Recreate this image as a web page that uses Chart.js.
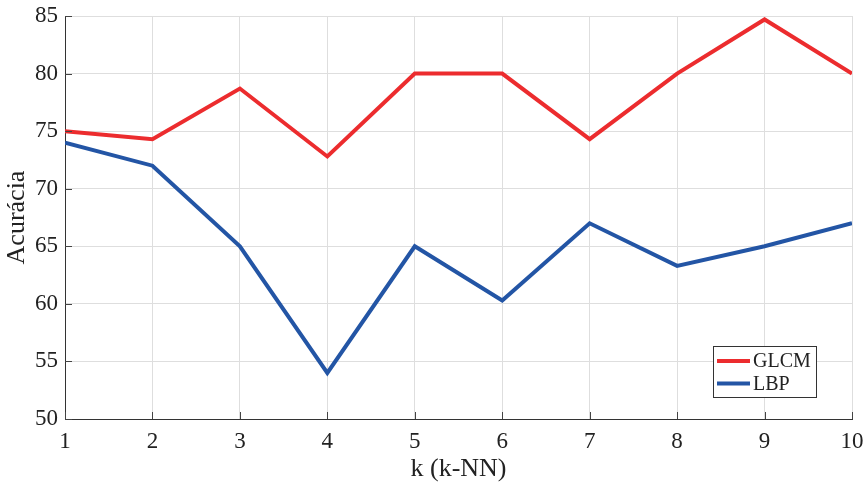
<!DOCTYPE html>
<html>
<head>
  <meta charset="utf-8">
  <title>Acurácia k-NN</title>
  <script src="https://cdn.jsdelivr.net/npm/chart.js@4.4.0/dist/chart.umd.min.js"></script>
  <style>
    body { margin: 0; background: #fff; }
    #wrap { width: 868px; height: 485px; }
  </style>
</head>
<body>
<div id="wrap"><canvas id="myChart" width="868" height="485"></canvas></div>
<script>
  // valores
  let kValues = [1, 2, 3, 4, 5, 6, 7, 8, 9, 10];
  let glcm = [75, 74.3, 78.7, 72.8, 80, 80, 74.3, 80, 84.7, 80];
  let lbp = [74, 72, 65, 54, 65, 60.3, 67, 63.3, 65, 67];
  let yTicks = [50, 55, 60, 65, 70, 75, 80, 85];

  let serif = "'Liberation Serif', 'Times New Roman', serif";

  // legenda desenhada dentro da área do gráfico, canto inferior direito
  let boxLegend = {
    id: 'boxLegend',
    afterDraw(chart) {
      let ctx = chart.ctx;
      let x0 = 713, y0 = 346, w = 103, h = 51;
      ctx.save();
      ctx.fillStyle = '#fff';
      ctx.fillRect(x0, y0, w, h);
      ctx.strokeStyle = '#333';
      ctx.lineWidth = 1;
      ctx.strokeRect(x0 + 0.5, y0 + 0.5, w, h);
      ctx.font = '20px ' + serif;
      ctx.textBaseline = 'middle';
      chart.data.datasets.forEach((ds, i) => {
        let y = y0 + 15 + i * 22.5;
        ctx.strokeStyle = ds.borderColor;
        ctx.lineWidth = 4;
        ctx.beginPath();
        ctx.moveTo(x0 + 4, y);
        ctx.lineTo(x0 + 37, y);
        ctx.stroke();
        ctx.fillStyle = '#222';
        ctx.fillText(ds.label, x0 + 40, y + 1);
      });
      ctx.restore();
    }
  };

  // pequenos ticks para dentro, estilo MATLAB
  let innerTicks = {
    id: 'innerTicks',
    afterDatasetsDraw(chart) {
      let ctx = chart.ctx, a = chart.chartArea;
      let xs = chart.scales.x, ys = chart.scales.y;
      ctx.save();
      ctx.strokeStyle = '#444';
      ctx.lineWidth = 1;
      ctx.beginPath();
      kValues.forEach(k => {
        let px = Math.round(xs.getPixelForValue(k)) + 0.5;
        ctx.moveTo(px, a.bottom);
        ctx.lineTo(px, a.bottom - 7);
      });
      yTicks.forEach(v => {
        let py = Math.round(ys.getPixelForValue(v)) + 0.5;
        ctx.moveTo(a.left, py);
        ctx.lineTo(a.left + 7, py);
      });
      ctx.stroke();
      ctx.restore();
    }
  };

  let ctx = document.getElementById('myChart').getContext('2d');
  let myChart = new Chart(ctx, {
    type: 'line',
    data: {
      datasets: [
        {
          label: 'GLCM',
          data: kValues.map((k, i) => ({ x: k, y: glcm[i] })),
          borderColor: '#EC2C2E',
          borderWidth: 4,
          pointRadius: 0,
          tension: 0
        },
        {
          label: 'LBP',
          data: kValues.map((k, i) => ({ x: k, y: lbp[i] })),
          borderColor: '#2355A5',
          borderWidth: 4,
          pointRadius: 0,
          tension: 0
        }
      ]
    },
    options: {
      responsive: false,
      animation: false,
      layout: { padding: { top: 16, right: 16, left: 0, bottom: 0 } },
      plugins: {
        legend: { display: false },
        tooltip: { enabled: false }
      },
      scales: {
        x: {
          type: 'linear',
          min: 1,
          max: 10,
          afterFit(scale) {
            scale.height = 66;
            scale.paddingLeft = 0;
            scale.paddingRight = 0;
          },
          afterBuildTicks(scale) { scale.ticks = kValues.map(v => ({ value: v })); },
          grid: { color: '#dedede', lineWidth: 1, drawTicks: false },
          border: { color: '#333', width: 1 },
          ticks: { color: '#222', font: { family: serif, size: 23 }, padding: 9 },
          title: {
            display: true,
            text: 'k (k-NN)',
            color: '#222',
            font: { family: serif, size: 26 },
            padding: { top: 0, bottom: 0 }
          }
        },
        y: {
          min: 50,
          max: 85,
          afterFit(scale) {
            scale.width = 65;
            scale.paddingTop = 0;
            scale.paddingBottom = 0;
          },
          afterBuildTicks(scale) { scale.ticks = yTicks.map(v => ({ value: v })); },
          grid: { color: '#dedede', lineWidth: 1, drawTicks: false },
          border: { color: '#333', width: 1 },
          ticks: { color: '#222', font: { family: serif, size: 23 }, padding: 7 },
          title: {
            display: true,
            text: 'Acurácia',
            color: '#222',
            font: { family: serif, size: 26 },
            padding: { top: 2, bottom: 0 }
          }
        }
      }
    },
    plugins: [innerTicks, boxLegend]
  });
</script>
</body>
</html>
